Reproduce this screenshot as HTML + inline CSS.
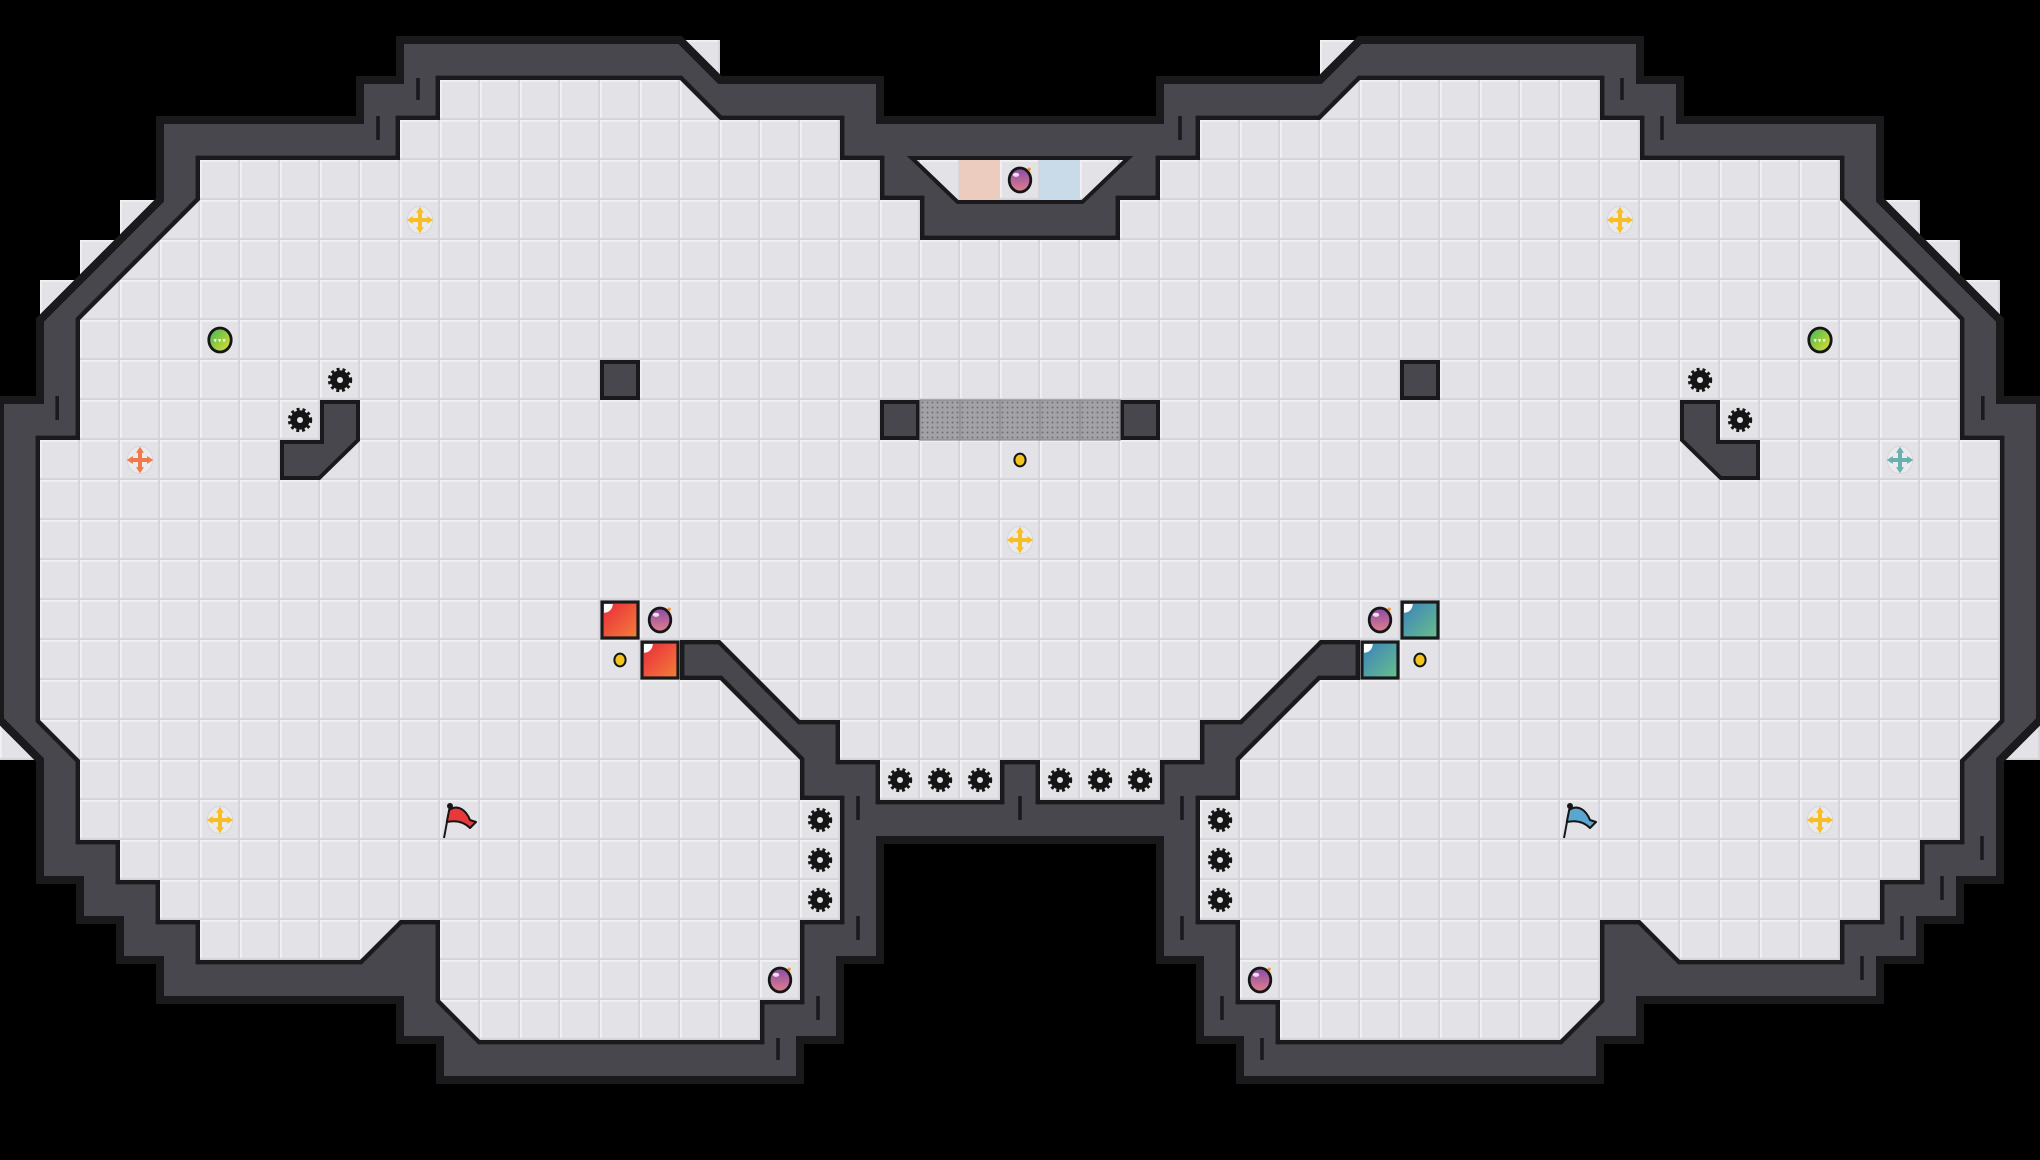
<!DOCTYPE html>
<html><head><meta charset="utf-8"><style>html,body{margin:0;padding:0;background:#000;}svg{display:block}</style></head>
<body>
<svg width="2040" height="1160" viewBox="0 0 51 29" xmlns="http://www.w3.org/2000/svg">
<defs>
<pattern id="tile" x="0" y="0" width="1" height="1" patternUnits="userSpaceOnUse">
<rect x="0" y="0" width="1" height="1" fill="#e3e3e7"/>
<rect x="0" y="0" width="1" height="0.045" fill="#f1f1f3"/>
<rect x="0" y="0" width="0.045" height="1" fill="#f1f1f3"/>
<rect x="0" y="0.955" width="1" height="0.045" fill="#d3d3d9"/>
<rect x="0.955" y="0" width="0.045" height="1" fill="#d3d3d9"/>
</pattern>
<pattern id="dots" x="0" y="0" width="0.125" height="0.125" patternUnits="userSpaceOnUse">
<rect width="0.125" height="0.125" fill="#a3a3a7"/>
<circle cx="0.0625" cy="0.0625" r="0.025" fill="#707075"/>
</pattern>
<linearGradient id="gRed" x1="0" y1="0" x2="1" y2="1"><stop offset="0" stop-color="#e8283c"/><stop offset="1" stop-color="#f4803a"/></linearGradient>
<linearGradient id="gTeal" x1="0" y1="0" x2="1" y2="1"><stop offset="0" stop-color="#3a7fc0"/><stop offset="1" stop-color="#68c08a"/></linearGradient>
<linearGradient id="gPink" x1="0" y1="0" x2="0" y2="1"><stop offset="0" stop-color="#8a4aa8"/><stop offset="1" stop-color="#e0808a"/></linearGradient>
<linearGradient id="gGreen" x1="0" y1="0" x2="1" y2="1"><stop offset="0" stop-color="#3cb65a"/><stop offset="1" stop-color="#e8e02a"/></linearGradient>
<polygon id="fl" points="11,2 17,2 18,3 21,3 21,4 22,4 22,5 23,5 23,6 28,6 28,5 29,5 29,4 30,4 30,3 33,3 34,2 40,2 40,3 41,3 41,4 46,4 46,5 49,8 49,11 50,11 50,18 49,19 49,21 48,21 48,22 47,22 47,23 46,23 46,24 42,24 41,23 40,23 40,25 39,26 32,26 32,25 31,25 31,23 30,23 30,20 31,20 31,19 33,17 34,17 34,16 33,16 31,18 30,18 30,19 29,19 29,20 26,20 26,19 25,19 25,20 22,20 22,19 21,19 21,18 20,18 18,16 17,16 17,17 18,17 20,19 20,20 21,20 21,23 20,23 20,25 19,25 19,26 12,26 11,25 11,23 10,23 9,24 5,24 5,23 4,23 4,22 3,22 3,21 2,21 2,19 1,18 1,11 2,11 2,8 5,5 5,4 10,4 10,3 11,3"/>
<polygon id="alc" points="22.92,4 28.08,4 27.04,5 23.96,5"/>
<g id="gear"><circle r="0.24" fill="#151515" stroke="#151515" stroke-width="0.13" stroke-dasharray="0.066 0.065"/><circle r="0.075" fill="#e6e6ea"/></g>
<g id="crossArms">
<rect x="-0.05" y="-0.22" width="0.1" height="0.44"/><rect x="-0.22" y="-0.05" width="0.44" height="0.1"/>
<polygon points="0,-0.33 -0.1,-0.18 0.1,-0.18"/><polygon points="0,0.33 -0.1,0.18 0.1,0.18"/>
<polygon points="-0.33,0 -0.18,-0.1 -0.18,0.1"/><polygon points="0.33,0 0.18,-0.1 0.18,0.1"/>
</g>
<g id="crossY"><ellipse rx="0.32" ry="0.34" fill="#ebebee" stroke="#d8d8dd" stroke-width="0.03"/><use href="#crossArms" fill="#f6bf2a"/></g>
<g id="crossO"><ellipse rx="0.32" ry="0.34" fill="#ebebee" stroke="#d8d8dd" stroke-width="0.03"/><use href="#crossArms" fill="#f07a4a"/></g>
<g id="crossT"><ellipse rx="0.32" ry="0.34" fill="#ebebee" stroke="#d8d8dd" stroke-width="0.03"/><use href="#crossArms" fill="#6ab0b0"/></g>
<g id="pink"><ellipse rx="0.27" ry="0.3" fill="url(#gPink)" stroke="#151515" stroke-width="0.07"/><ellipse cx="-0.1" cy="-0.13" rx="0.08" ry="0.05" fill="#fff" opacity="0.8"/><circle cx="0.23" cy="-0.27" r="0.04" fill="#f0902a"/></g>
<g id="green"><ellipse rx="0.28" ry="0.3" fill="url(#gGreen)" stroke="#151515" stroke-width="0.07"/><polygon points="-0.16,-0.02 -0.08,-0.02 -0.12,0.06" fill="#fff"/><polygon points="-0.05,-0.02 0.03,-0.02 -0.01,0.06" fill="#fff"/><polygon points="0.06,-0.02 0.14,-0.02 0.1,0.06" fill="#fff"/></g>
<g id="ydot"><ellipse rx="0.14" ry="0.16" fill="#f2c41c" stroke="#151515" stroke-width="0.05"/></g>
</defs>
<rect width="51" height="29" fill="#000"/>
<g fill="url(#tile)">
<rect x="17" y="1" width="1" height="1"/><rect x="33" y="1" width="1" height="1"/>
<rect x="3" y="5" width="1" height="1"/><rect x="2" y="6" width="1" height="1"/><rect x="1" y="7" width="1" height="1"/>
<rect x="0" y="18" width="1" height="1"/>
<rect x="47" y="5" width="1" height="1"/><rect x="48" y="6" width="1" height="1"/><rect x="49" y="7" width="1" height="1"/>
<rect x="50" y="18" width="1" height="1"/>
</g>
<polygon points="10,1 17,1 18,2 22,2 22,3 29,3 29,2 33,2 34,1 41,1 41,2 42,2 42,3 47,3 47,5 50,8 50,10 51,10 51,18 50,19 50,22 49,22 49,23 48,23 48,24 47,24 47,25 41,25 41,26 40,26 40,27 31,27 31,26 30,26 30,24 29,24 29,21 22,21 22,24 21,24 21,26 20,26 20,27 11,27 11,26 10,26 10,25 4,25 4,24 3,24 3,23 2,23 2,22 1,22 1,19 0,18 0,10 1,10 1,8 4,5 4,3 9,3 9,2 10,2" fill="#48474d" stroke="#1a1a1d" stroke-width="0.2" stroke-linejoin="miter"/>
<g stroke="#1a1a1d" stroke-width="0.09">
<line x1="10.45" y1="1.95" x2="10.45" y2="2.5"/><line x1="9.45" y1="2.9" x2="9.45" y2="3.5"/><line x1="1.43" y1="9.9" x2="1.43" y2="10.5"/>
<line x1="25.5" y1="19.9" x2="25.5" y2="20.5"/><line x1="21.45" y1="22.9" x2="21.45" y2="23.5"/><line x1="20.45" y1="24.9" x2="20.45" y2="25.5"/><line x1="19.45" y1="25.95" x2="19.45" y2="26.5"/><line x1="21.45" y1="19.9" x2="21.45" y2="20.5"/>
<line x1="29.5" y1="2.9" x2="29.5" y2="3.5"/>
<line x1="40.55" y1="1.95" x2="40.55" y2="2.5"/><line x1="41.55" y1="2.9" x2="41.55" y2="3.5"/><line x1="49.57" y1="9.9" x2="49.57" y2="10.5"/>
<line x1="29.55" y1="22.9" x2="29.55" y2="23.5"/><line x1="30.55" y1="24.9" x2="30.55" y2="25.5"/><line x1="31.55" y1="25.95" x2="31.55" y2="26.5"/><line x1="29.55" y1="19.9" x2="29.55" y2="20.5"/>
<line x1="49.55" y1="20.9" x2="49.55" y2="21.5"/><line x1="48.55" y1="21.9" x2="48.55" y2="22.5"/><line x1="47.55" y1="22.9" x2="47.55" y2="23.5"/><line x1="46.55" y1="23.9" x2="46.55" y2="24.5"/>
</g>
<use href="#fl" fill="none" stroke="#1a1a1d" stroke-width="0.22"/>
<use href="#fl" fill="url(#tile)" stroke="none"/>
<use href="#alc" fill="none" stroke="#1a1a1d" stroke-width="0.2"/>
<use href="#alc" fill="url(#tile)" stroke="none"/>
<rect x="24" y="4" width="1" height="1" fill="#ecccbf"/>
<rect x="26" y="4" width="1" height="1" fill="#c9dbe8"/>
<g fill="#48474d" stroke="#1a1a1d" stroke-width="0.1">
<rect x="15.05" y="9.05" width="0.9" height="0.9"/><rect x="35.05" y="9.05" width="0.9" height="0.9"/>
<rect x="22.05" y="10.05" width="0.9" height="0.9"/><rect x="28.05" y="10.05" width="0.9" height="0.9"/>
<polygon points="8.05,10.05 8.95,10.05 8.95,11 7.98,11.95 7.05,11.95 7.05,11.05 8.05,11.05"/>
<polygon points="42.95,10.05 42.05,10.05 42.05,11 43.02,11.95 43.95,11.95 43.95,11.05 42.95,11.05"/>
</g>
<g fill="url(#dots)" stroke="#8a8a8f" stroke-width="0.03">
<rect x="23" y="10" width="1" height="1"/><rect x="24" y="10" width="1" height="1"/><rect x="25" y="10" width="1" height="1"/><rect x="26" y="10" width="1" height="1"/><rect x="27" y="10" width="1" height="1"/>
</g>
<g stroke="#1a1a1d" stroke-width="0.08">
<rect x="15.05" y="15.05" width="0.9" height="0.9" fill="url(#gRed)"/>
<rect x="16.05" y="16.05" width="0.9" height="0.9" fill="url(#gRed)"/>
<rect x="35.05" y="15.05" width="0.9" height="0.9" fill="url(#gTeal)"/>
<rect x="34.05" y="16.05" width="0.9" height="0.9" fill="url(#gTeal)"/>
</g>
<g fill="#fff">
<path d="M15.1,15.1 h0.22 a0.22,0.22 0 0 1 -0.22,0.22z"/><path d="M16.1,16.1 h0.22 a0.22,0.22 0 0 1 -0.22,0.22z"/>
<path d="M35.1,15.1 h0.22 a0.22,0.22 0 0 1 -0.22,0.22z"/><path d="M34.1,16.1 h0.22 a0.22,0.22 0 0 1 -0.22,0.22z"/>
</g>
<use href="#pink" x="16.5" y="15.5"/><use href="#pink" x="34.5" y="15.5"/>
<use href="#pink" x="19.5" y="24.5"/><use href="#pink" x="31.5" y="24.5"/>
<use href="#pink" x="25.5" y="4.5"/>
<use href="#ydot" x="15.5" y="16.5"/><use href="#ydot" x="35.5" y="16.5"/><use href="#ydot" x="25.5" y="11.5"/>
<use href="#crossY" x="10.5" y="5.5"/><use href="#crossY" x="40.5" y="5.5"/>
<use href="#crossY" x="5.5" y="20.5"/><use href="#crossY" x="45.5" y="20.5"/>
<use href="#crossY" x="25.5" y="13.5"/>
<use href="#crossO" x="3.5" y="11.5"/><use href="#crossT" x="47.5" y="11.5"/>
<use href="#green" x="5.5" y="8.5"/><use href="#green" x="45.5" y="8.5"/>
<use href="#gear" x="8.5" y="9.5"/><use href="#gear" x="7.5" y="10.5"/>
<use href="#gear" x="42.5" y="9.5"/><use href="#gear" x="43.5" y="10.5"/>
<use href="#gear" x="22.5" y="19.5"/><use href="#gear" x="23.5" y="19.5"/><use href="#gear" x="24.5" y="19.5"/>
<use href="#gear" x="26.5" y="19.5"/><use href="#gear" x="27.5" y="19.5"/><use href="#gear" x="28.5" y="19.5"/>
<use href="#gear" x="20.5" y="20.5"/><use href="#gear" x="20.5" y="21.5"/><use href="#gear" x="20.5" y="22.5"/>
<use href="#gear" x="30.5" y="20.5"/><use href="#gear" x="30.5" y="21.5"/><use href="#gear" x="30.5" y="22.5"/>
<g stroke="#151515" stroke-width="0.05" stroke-linejoin="round">
<line x1="11.1" y1="20.95" x2="11.25" y2="20.15"/>
<path d="M11.23,20.25 C11.45,20.1 11.65,20.25 11.75,20.5 L11.9,20.55 L11.75,20.7 C11.6,20.55 11.4,20.5 11.17,20.55 Z" fill="#e8383a"/>
<circle cx="11.25" cy="20.15" r="0.05" fill="#151515"/>
<line x1="39.1" y1="20.95" x2="39.25" y2="20.15"/>
<path d="M39.23,20.25 C39.45,20.1 39.65,20.25 39.75,20.5 L39.9,20.55 L39.75,20.7 C39.6,20.55 39.4,20.5 39.17,20.55 Z" fill="#5aa6d0"/>
<circle cx="39.25" cy="20.15" r="0.05" fill="#151515"/>
</g>
</svg>
</body></html>
